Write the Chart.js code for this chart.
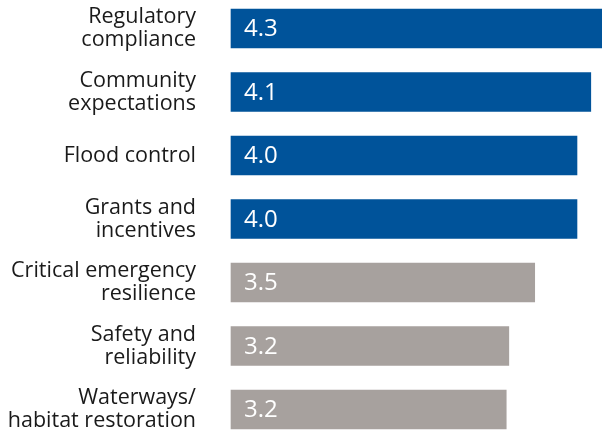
<!DOCTYPE html>
<html>
<head>
<meta charset="utf-8">
<script src="https://cdn.jsdelivr.net/npm/chart.js@4"></script>
<style>
  body { margin: 0; background: #fff; }
  #wrap { width: 602px; height: 431px; }
</style>
</head>
<body>
<div id="wrap"><canvas id="chart"></canvas></div>
<script>
const categories = [
  ['Regulatory', 'compliance'],
  ['Community', 'expectations'],
  'Flood control',
  ['Grants and', 'incentives'],
  ['Critical emergency', 'resilience'],
  ['Safety and', 'reliability'],
  ['Waterways/', 'habitat restoration']
]
const scores = [4.3, 4.17, 4.01, 4.01, 3.52, 3.22, 3.19]
const scoreLabels = ['4.3', '4.1', '4.0', '4.0', '3.5', '3.2', '3.2']
const barColors = ['#00539a', '#00539a', '#00539a', '#00539a', '#a7a19e', '#a7a19e', '#a7a19e']

// white value text at the left end of each bar
const valueText = {
  id: 'valueText',
  afterDatasetsDraw(chart) {
    const ctx = chart.ctx
    const meta = chart.getDatasetMeta(0)
    ctx.save()
    ctx.fillStyle = '#fff'
    ctx.font = '24px "Open Sans"'
    ctx.textAlign = 'left'
    ctx.textBaseline = 'middle'
    meta.data.forEach((bar, i) => {
      ctx.fillText(scoreLabels[i], bar.base + 13, bar.y + 1)
    })
    ctx.restore()
  }
}

const context = document.getElementById('chart').getContext('2d')

new Chart(context, {
  type: 'bar',
  data: {
    labels: categories,
    datasets: [{
      data: scores,
      backgroundColor: barColors,
      barThickness: 39,
      clip: false
    }]
  },
  options: {
    indexAxis: 'y',
    responsive: true,
    maintainAspectRatio: false,
    animation: false,
    layout: { padding: { top: 28.5, bottom: 21.5, left: 0, right: 0 } },
    plugins: {
      legend: { display: false },
      tooltip: { enabled: false }
    },
    scales: {
      x: {
        display: false,
        min: 0,
        max: 4.3
      },
      y: {
        offset: false,
        grid: { display: false, drawTicks: false },
        border: { display: false },
        ticks: {
          color: '#1a1a1a',
          padding: 35,
          font: { family: 'Open Sans', size: 21.5, lineHeight: 1.07 }
        },
        afterFit(scale) {
          scale.width = 231
          scale.paddingTop = 0
          scale.paddingBottom = 0
        }
      }
    }
  },
  plugins: [valueText]
})
</script>
</body>
</html>
